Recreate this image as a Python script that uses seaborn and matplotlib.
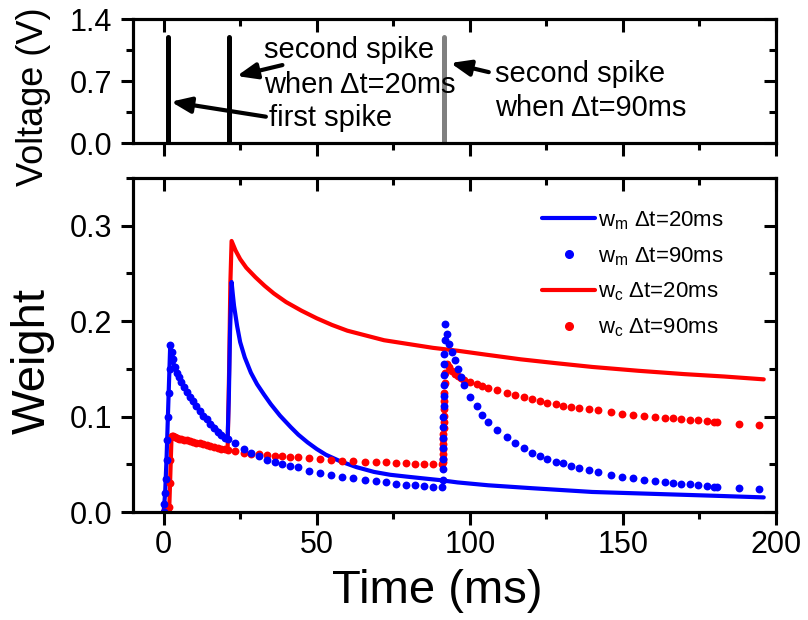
import numpy as np
import pandas as pd
import matplotlib
matplotlib.use("Agg")
import matplotlib.pyplot as plt
import seaborn as sns
from matplotlib.lines import Line2D
from matplotlib.ticker import MultipleLocator, FormatStrFormatter

# ---------------- data ----------------
spike_t = [1.5, 21.5, 91.5]
spike_v = [1.2, 1.2, 1.2]
spike_colors = ["black", "black", "#808080"]

# w_m, dt = 20 ms (solid blue)
t_m20 = [0, 0.5, 1.0, 1.5, 2.15, 3.5, 5, 6.7, 10, 14.4, 18.7, 20.9, 21.3, 21.7, 22.2,
         22.6, 23, 24, 25, 26.5, 28.5, 30.5, 32.8, 35, 38, 41.5, 44, 47, 50, 53, 57.8,
         63, 68.7, 74, 79.6, 84, 90, 96, 106, 120, 140, 160, 180, 196]
wm_20 = [0, 0.02, 0.06, 0.11, 0.1745, 0.152, 0.141, 0.131, 0.1136, 0.096, 0.082, 0.077,
         0.12, 0.19, 0.241, 0.228, 0.216, 0.195, 0.178, 0.162, 0.146, 0.134, 0.123,
         0.113, 0.101, 0.089, 0.081, 0.073, 0.066, 0.060, 0.053, 0.047, 0.042, 0.039,
         0.037, 0.0355, 0.0335, 0.031, 0.028, 0.025, 0.021, 0.019, 0.017, 0.0153]

# w_c, dt = 20 ms (solid red)
t_c20 = [0, 1.8, 2.2, 2.6, 5, 10, 15, 20.9, 21.4, 21.8, 22.2, 23.5, 25, 27, 30, 33, 36,
         40, 45, 50, 55, 60, 66, 72, 80, 88, 96, 105, 116.6, 128, 140, 155, 170, 183,
         196]
wc_20 = [0, 0, 0.04, 0.080, 0.077, 0.073, 0.069, 0.065, 0.15, 0.24, 0.284, 0.274, 0.265,
         0.256, 0.246, 0.237, 0.229, 0.220, 0.211, 0.203, 0.196, 0.190, 0.185, 0.180,
         0.176, 0.172, 0.169, 0.165, 0.160, 0.156, 0.152, 0.148, 0.1445, 0.142, 0.139]

# dt = 90 ms (dots), sampled times
t90 = [0.0, 0.25, 0.5, 0.75, 1.0, 1.25, 1.5, 1.75, 1.95, 2.15,
       2.6, 3.1, 3.6, 4.3, 5.0, 5.8, 6.7, 7.6, 8.6, 9.6, 10.7, 11.8, 12.9, 14.1, 15.3,
       16.5, 17.7, 18.9, 20.1, 21.0,
       23.3, 26.1, 28.5, 31.2, 33.9, 36.3, 38.8, 41.3, 43.9, 47.5, 51.1, 54.6, 58.4,
       62.0, 65.7, 69.3, 72.5, 75.8, 79.1, 82.0, 85.0, 88.1, 91.0,
       91.1, 91.15, 91.2, 91.25, 91.3, 91.35, 91.4, 91.45, 91.5, 91.55, 91.6, 91.65,
       91.7, 91.75, 91.8,
       92.6, 93.2, 94.3, 95.1, 96.1, 97.2, 98.1, 100.0, 102.2, 104.1, 106.0, 109.0,
       112.0, 114.7, 117.6, 120.2, 122.8, 125.3, 128.0, 130.5, 132.9, 135.8, 138.9,
       142.0, 146.2, 149.8, 153.3, 157.0, 160.6, 163.6, 166.3, 168.9, 171.8, 174.5,
       177.4, 179.9, 180.7, 187.8, 194.5]
wm_90 = [0.0, 0.008, 0.02, 0.035, 0.055, 0.075, 0.10, 0.125, 0.15, 0.1745,
         0.168, 0.160, 0.152, 0.146, 0.141, 0.136, 0.131, 0.126, 0.121, 0.116, 0.111,
         0.106, 0.101, 0.097, 0.092, 0.088, 0.084, 0.081, 0.078, 0.076,
         0.0724, 0.0655, 0.062, 0.0585, 0.055, 0.0526, 0.050, 0.0484, 0.0467, 0.0432,
         0.0411, 0.0387, 0.0369, 0.0352, 0.0334, 0.0324, 0.031, 0.0296, 0.0286, 0.0279,
         0.0272, 0.0261, 0.0258,
         0.034, 0.045, 0.056, 0.067, 0.078, 0.089, 0.100, 0.111, 0.122, 0.133, 0.144,
         0.155, 0.166, 0.180, 0.1965,
         0.187, 0.176, 0.1676, 0.159, 0.150, 0.1414, 0.1327, 0.1205, 0.1108, 0.102,
         0.0944, 0.0857, 0.0787, 0.0718, 0.0666, 0.062, 0.0585, 0.0554, 0.0526, 0.0509,
         0.0484, 0.0463, 0.0439, 0.0415, 0.039, 0.0369, 0.0352, 0.0334, 0.0324, 0.0314,
         0.0303, 0.0293, 0.029, 0.0279, 0.0272, 0.0265, 0.0265, 0.0248, 0.0237]
wc_90 = [0.0, 0.0, 0.0, 0.0, 0.0, 0.0, 0.0, 0.005, 0.03, 0.055,
         0.080, 0.0795, 0.079, 0.078, 0.077, 0.076, 0.0755, 0.075, 0.074, 0.073, 0.0725,
         0.072, 0.071, 0.070, 0.069, 0.068, 0.067, 0.066, 0.0655, 0.065,
         0.064, 0.062, 0.0613, 0.0606, 0.0599, 0.0592, 0.0585, 0.0578, 0.0572, 0.0561,
         0.0554, 0.0544, 0.0536, 0.0533, 0.0526, 0.0519, 0.0519, 0.0516, 0.0509, 0.0502,
         0.0502, 0.0498, 0.0498,
         0.052, 0.056, 0.061, 0.066, 0.071, 0.076, 0.082, 0.088, 0.094, 0.101, 0.108,
         0.116, 0.125, 0.135, 0.146,
         0.155, 0.152, 0.148, 0.145, 0.142, 0.140, 0.138, 0.136, 0.134, 0.1325,
         0.130, 0.1275, 0.1247, 0.1223, 0.120, 0.118, 0.1163, 0.1146, 0.1129, 0.1115,
         0.110, 0.109, 0.1077, 0.1066, 0.1048, 0.1032, 0.1021, 0.1007, 0.0996, 0.099,
         0.0983, 0.0975, 0.0969, 0.0962, 0.0954, 0.0948, 0.0948, 0.0927, 0.0909]

legend_labels = [r"w$_\mathregular{m}$ Δt=20ms", r"w$_\mathregular{m}$ Δt=90ms",
                 r"w$_\mathregular{c}$ Δt=20ms", r"w$_\mathregular{c}$ Δt=90ms"]

# ---------------- style ----------------
sns.set_style("ticks")
plt.rcParams["font.family"] = ["Liberation Sans", "DejaVu Sans"]
plt.rcParams["mathtext.fontset"] = "custom"
plt.rcParams["mathtext.rm"] = "Liberation Sans"
plt.rcParams["axes.linewidth"] = 2.2
for k in ["text.color", "axes.labelcolor", "xtick.color", "ytick.color",
          "axes.edgecolor"]:
    plt.rcParams[k] = "black"

W, H = 808, 620
fig = plt.figure(figsize=(W / 100, H / 100), dpi=100)


def rect(l, t, r, b):
    return [l / W, 1 - b / H, (r - l) / W, (b - t) / H]


ax1 = fig.add_axes(rect(133, 19, 776, 143))
ax2 = fig.add_axes(rect(133, 178, 776, 512))

LW_T = 2.2


def set_locators(axis, maj, mnr):
    axis.set_major_locator(MultipleLocator(maj))
    axis.set_minor_locator(MultipleLocator(mnr))


def style_axes(ax, xlim, ylim, xmaj, xmin, ymaj, ymin, show_xlabels):
    ax.set_xlim(*xlim)
    ax.set_ylim(*ylim)
    set_locators(ax.xaxis, xmaj, xmin)
    set_locators(ax.yaxis, ymaj, ymin)
    ax.tick_params(which="major", direction="out", length=9, width=LW_T,
                   labelsize=22, pad=4, top=False, right=False)
    ax.tick_params(which="minor", direction="out", length=5, width=LW_T,
                   top=False, right=False)
    ax.tick_params(axis="y", which="major", pad=6)
    if not show_xlabels:
        ax.tick_params(axis="x", labelbottom=False)
    for s in ax.spines.values():
        s.set_visible(True)
        s.set_linewidth(LW_T)
    # mirrored inward ticks on top and right
    tx = ax.twiny()
    tx.set_xlim(*xlim)
    set_locators(tx.xaxis, xmaj, xmin)
    tx.tick_params(axis="x", which="major", direction="in", length=9, width=LW_T,
                   labeltop=False, top=True, bottom=False)
    tx.tick_params(axis="x", which="minor", direction="in", length=5, width=LW_T,
                   top=True, bottom=False)
    tx.tick_params(axis="y", left=False, right=False, labelleft=False)
    ty = ax.twinx()
    ty.set_ylim(*ylim)
    set_locators(ty.yaxis, ymaj, ymin)
    ty.tick_params(axis="y", which="major", direction="in", length=9, width=LW_T,
                   labelright=False, right=True, left=False)
    ty.tick_params(axis="y", which="minor", direction="in", length=5, width=LW_T,
                   right=True, left=False)
    ty.tick_params(axis="x", bottom=False, top=False, labelbottom=False)
    for t in (tx, ty):
        for s in t.spines.values():
            s.set_linewidth(LW_T)


# ---------------- top panel ----------------
vl = ax1.vlines(spike_t, 0, spike_v, colors=spike_colors, lw=3.6)
vl.set_capstyle("round")
style_axes(ax1, (-10, 200), (0, 1.4), 50, 25, 0.7, 0.35, False)
ax1.yaxis.set_major_formatter(FormatStrFormatter("%.1f"))

arrow = dict(arrowstyle="-|>,head_length=1.0,head_width=0.4", mutation_scale=12,
             lw=3, color="black", shrinkA=0, shrinkB=0)
ax1.annotate("", xy=(23.9, 0.756), xytext=(38.8, 0.88), arrowprops=arrow)
ax1.annotate("", xy=(2.4, 0.466), xytext=(33.4, 0.297), arrowprops=arrow)
ax1.annotate("", xy=(93.7, 0.903), xytext=(106.2, 0.80), arrowprops=arrow)
ax1.text(32.7, 1.05, "second spike", fontsize=21, ha="left", va="center")
ax1.text(32.7, 0.655, "when Δt=20ms", fontsize=21, ha="left", va="center")
ax1.text(34.4, 0.282, "first spike", fontsize=21, ha="left", va="center")
ax1.text(108.1, 0.78, "second spike", fontsize=21, ha="left", va="center")
ax1.text(108.1, 0.40, "when Δt=90ms", fontsize=21, ha="left", va="center")

# ---------------- bottom panel ----------------
sns.lineplot(x=t_c20, y=wc_20, ax=ax2, color="red", lw=3, sort=False,
             estimator=None)
sns.lineplot(x=t_m20, y=wm_20, ax=ax2, color="blue", lw=3, sort=False,
             estimator=None)
sns.scatterplot(x=t90, y=wc_90, ax=ax2, color="red", s=32, linewidth=0, zorder=3)
sns.scatterplot(x=t90, y=wm_90, ax=ax2, color="blue", s=32, linewidth=0, zorder=4)
ax2.set_xlabel("")
ax2.set_ylabel("")
style_axes(ax2, (-10, 200), (0, 0.35), 50, 25, 0.1, 0.05, True)
ax2.yaxis.set_major_formatter(FormatStrFormatter("%.1f"))

handles = [Line2D([], [], color="blue", lw=3),
           Line2D([], [], color="blue", marker="o", ls="", ms=5.5),
           Line2D([], [], color="red", lw=3),
           Line2D([], [], color="red", marker="o", ls="", ms=5.5)]
leg = ax2.legend(handles, legend_labels, loc="upper left",
                 bbox_to_anchor=(542 / W, 1 - 209 / H), bbox_transform=fig.transFigure,
                 frameon=False, fontsize=16, handlelength=2.4, handletextpad=0.1,
                 labelspacing=0.6, borderpad=0, borderaxespad=0)
leg.set_zorder(10)

# ---------------- axis labels ----------------
fig.text(34 / W, 1 - 97 / H, "Voltage (V)", rotation=90, ha="center", va="center",
         fontsize=26)
fig.text(33 / W, 1 - 361 / H, "Weight", rotation=90, ha="center", va="center",
         fontsize=34)
fig.text(437 / W, 1 - 603 / H, "Time (ms)", ha="center", va="baseline", fontsize=34)

fig.savefig("out.png", dpi=100)
